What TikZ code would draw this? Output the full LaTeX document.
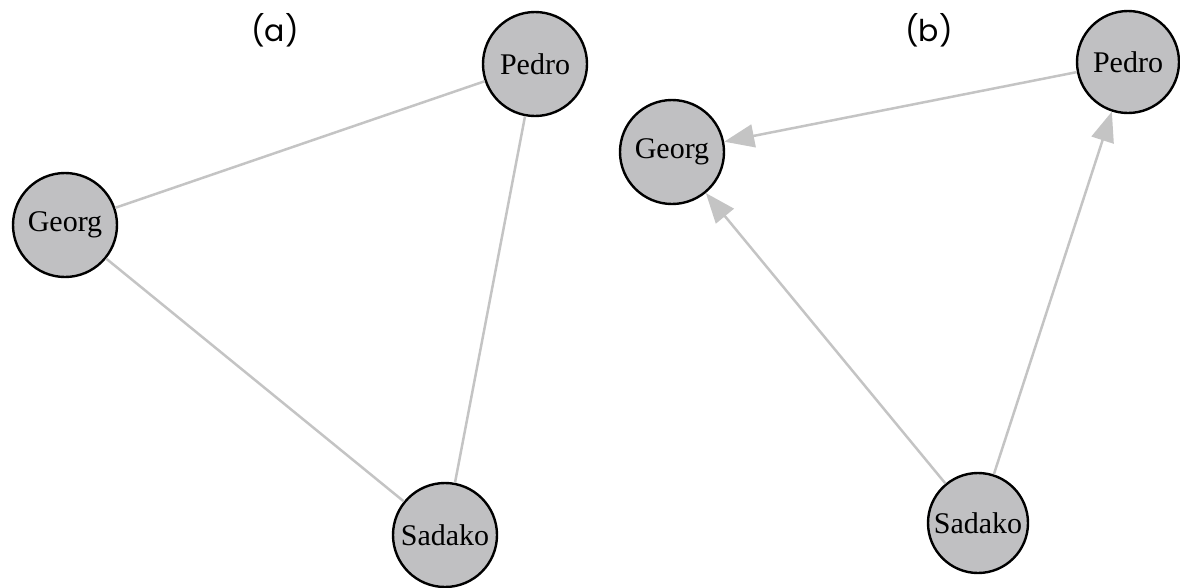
\documentclass[tikz,border=0pt]{standalone}
\usepackage{fontspec}
\setmainfont{Liberation Serif}
\newfontfamily\panelfont{Poppins}
\usetikzlibrary{arrows.meta}
\definecolor{nodegray}{RGB}{192,192,194}
\definecolor{edgegray}{RGB}{196,196,196}
\tikzset{
  person/.style={circle,draw=black,line width=2.4pt,fill=nodegray,minimum size=104pt,inner sep=0pt,font=\fontsize{30}{32}\selectfont},
  tie/.style={draw=edgegray,line width=2.5pt},
  arc/.style={tie,-{Triangle[length=30pt,width=23pt]}},
  panel/.style={font=\panelfont\fontsize{30}{34}\selectfont}
}
\begin{document}
\begin{tikzpicture}[x=1pt,y=-1pt]
            \useasboundingbox (0,0) rectangle (1180,587);
            % (a) undirected
            \node[panel] (labela) at (275,30) {(a)};
            \node[person] (pedroa) at (535,64) {Pedro};
            \node[person] (georga) at (65,225) {Georg};
            \node[person] (sadakoa) at (445,535) {Sadako};
            \draw[tie] (georga) -- (pedroa);
            \draw[tie] (georga) -- (sadakoa);
            \draw[tie] (pedroa) -- (sadakoa);
            % (b) directed
            \node[panel] (labelb) at (929,30) {(b)};
            \node[person,minimum size=102pt] (pedrob) at (1128,62) {Pedro};
            \node[person] (georgb) at (672,152) {Georg};
            \node[person,minimum size=100pt] (sadakob) at (978,523) {Sadako};
            \draw[arc] (pedrob) -- (georgb);
            \draw[arc] (sadakob) -- (georgb);
            \draw[arc] (sadakob) -- (pedrob);
        \end{tikzpicture}
\end{document}
